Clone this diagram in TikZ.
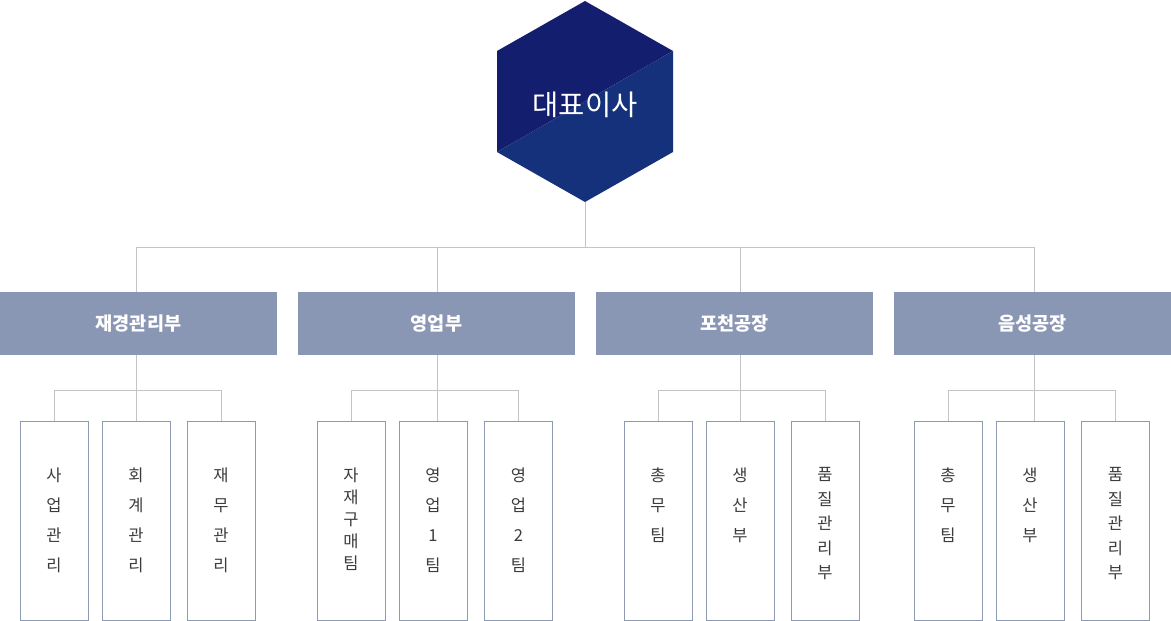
\documentclass[tikz,border=0pt]{standalone}
\usepackage{fontspec}
\setmainfont{Noto Sans CJK KR}
\usepackage{tikz}

\definecolor{hexdark}{HTML}{141E6E}
\definecolor{hexlight}{HTML}{15317B}
\definecolor{deptblue}{HTML}{8A97B4}
\definecolor{leafline}{HTML}{8E9AB2}
\definecolor{wiregray}{HTML}{C4C4C4}
\definecolor{nametext}{HTML}{3C3C3C}

\begin{document}
\begin{tikzpicture}[x=1pt, y=-1pt,
	dept/.style={fill=deptblue, minimum width=277pt, minimum height=63pt, inner sep=0pt, text=white, font=\fontsize{18.6}{20}\selectfont\bfseries},
	leaf/.style={draw=leafline, line width=1pt, fill=white, minimum width=68pt, minimum height=199pt, inner sep=0pt},
	leafname/.style={anchor=north, yshift=-47pt, inner sep=0pt, align=center, text=nametext, font=\fontsize{16.5}{30}\selectfont},
	tightname/.style={leafname, font=\fontsize{16.5}{22}\selectfont},
	midname/.style={leafname, font=\fontsize{16.5}{24.5}\selectfont},
	wire/.style={draw=wiregray, line width=1pt}]
	\useasboundingbox (0,0) rectangle (1171,621);

	\fill[hexdark] (585,1) -- (673,51) -- (497,152) -- (497,51) -- cycle;
	\fill[hexlight] (673,51) -- (673,152) -- (585,202) -- (497,152) -- cycle;
	\node[text=white, font=\fontsize{28.5}{30}\selectfont] (ceo) at (585,105) {대표이사};
	\coordinate (ceobase) at (585,202);

	\node[leaf] (a1) at (54,520.5) {};
	\node[leaf] (a2) at (136,520.5) {};
	\node[leaf] (a3) at (221,520.5) {};
	\node[leaf] (b1) at (351,520.5) {};
	\node[leaf] (b2) at (433,520.5) {};
	\node[leaf] (b3) at (518.5,520.5) {};
	\node[leaf] (c1) at (658,520.5) {};
	\node[leaf] (c2) at (740,520.5) {};
	\node[leaf] (c3) at (825,520.5) {};
	\node[leaf] (d1) at (948,520.5) {};
	\node[leaf] (d2) at (1030,520.5) {};
	\node[leaf] (d3) at (1115.5,520.5) {};

	\draw[wire] (ceobase) -- ++(0,45) -| (a2.north);
	\draw[wire] (ceobase) -- ++(0,45) -| ([xshift=4pt]b2.north);
	\draw[wire] (ceobase) -- ++(0,45) -| (c2.north);
	\draw[wire] (ceobase) -- ++(0,45) -| ([xshift=4pt]d2.north);
	\draw[wire] (a1.north) -- ++(0,-30) -| (a3.north);
	\draw[wire] (b1.north) -- ++(0,-30) -| (b3.north);
	\draw[wire] (c1.north) -- ++(0,-30) -| (c3.north);
	\draw[wire] (d1.north) -- ++(0,-30) -| (d3.north);

	\node[dept] (fin) at (138.5,323.5) {재경관리부};
	\node[dept] (sales) at (436.5,323.5) {영업부};
	\node[dept] (pocheon) at (734.5,323.5) {포천공장};
	\node[dept] (eumseong) at (1032.5,323.5) {음성공장};

	\node[leafname] at (a1.north) {사\\업\\관\\리};
	\node[leafname] at (a2.north) {회\\계\\관\\리};
	\node[leafname] at (a3.north) {재\\무\\관\\리};
	\node[tightname] at (b1.north) {자\\재\\구\\매\\팀};
	\node[leafname] at (b2.north) {영\\업\\1\\팀};
	\node[leafname] at (b3.north) {영\\업\\2\\팀};
	\node[leafname] at (c1.north) {총\\무\\팀};
	\node[leafname] at (c2.north) {생\\산\\부};
	\node[midname] at (c3.north) {품\\질\\관\\리\\부};
	\node[leafname] at (d1.north) {총\\무\\팀};
	\node[leafname] at (d2.north) {생\\산\\부};
	\node[midname] at (d3.north) {품\\질\\관\\리\\부};
\end{tikzpicture}
\end{document}
